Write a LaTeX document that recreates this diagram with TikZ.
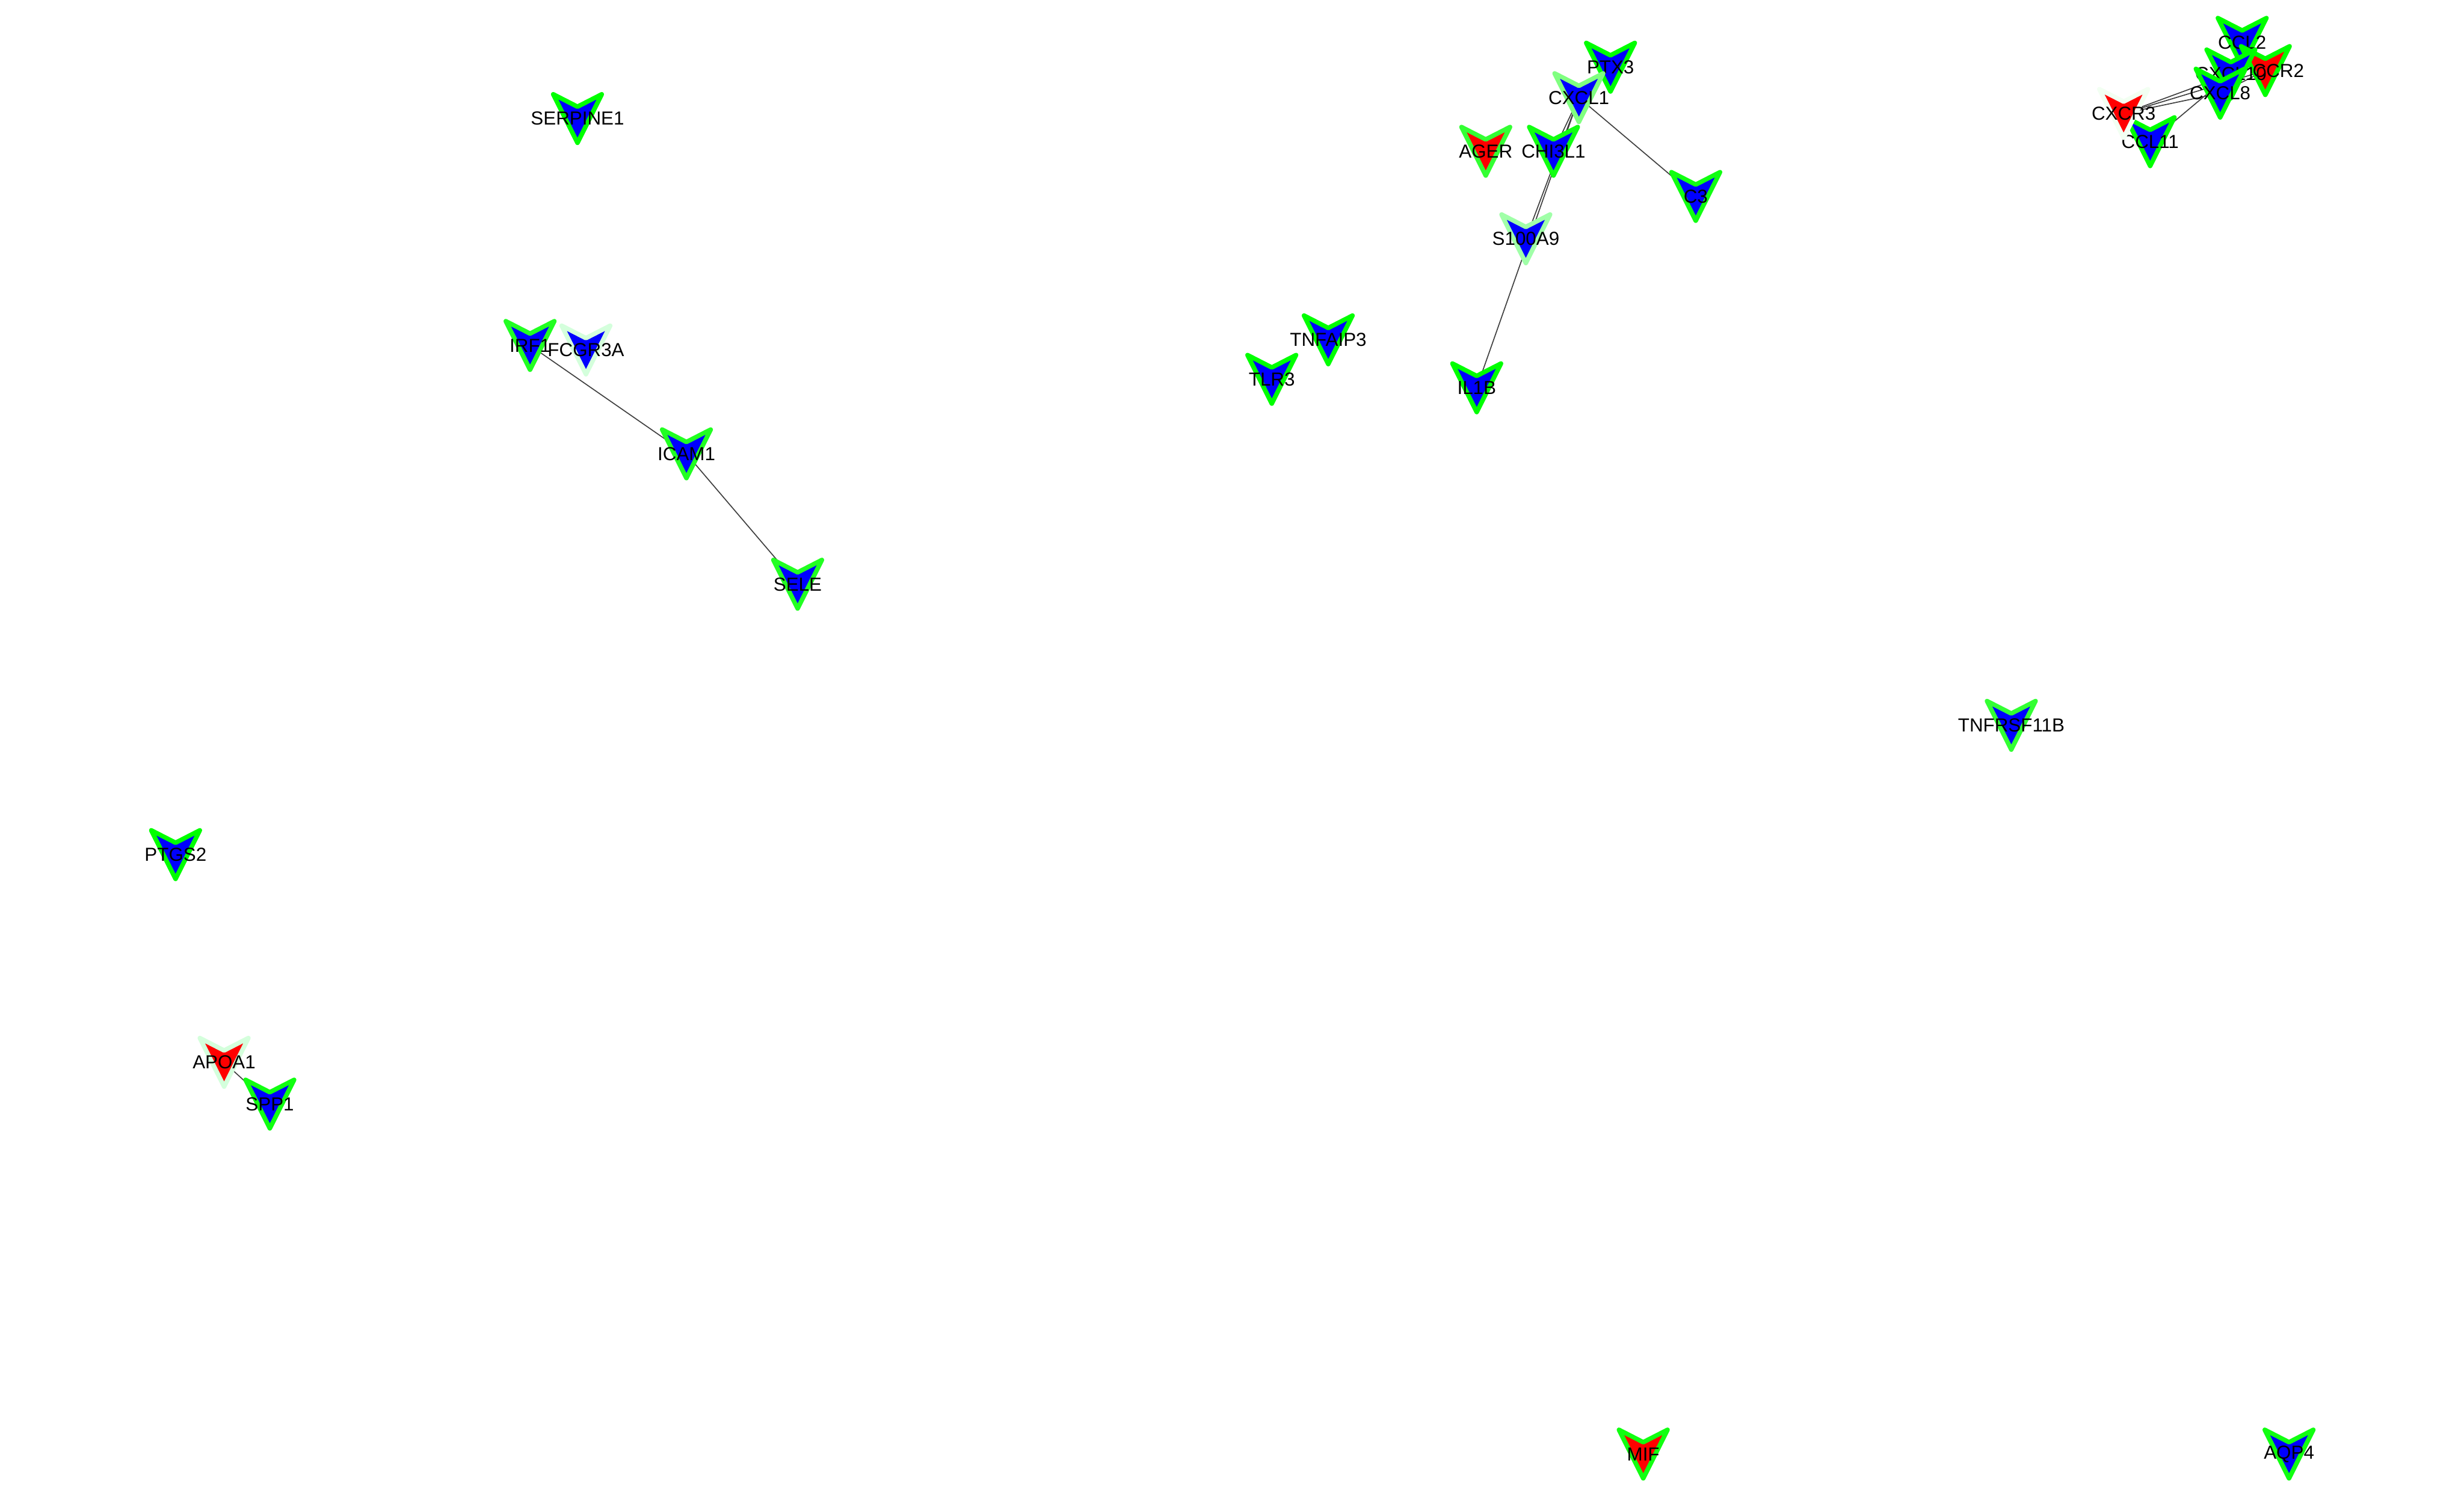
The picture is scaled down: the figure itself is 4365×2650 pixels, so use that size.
\documentclass[tikz,border=0pt]{standalone}
\usepackage{fontspec}
\setmainfont{Liberation Sans}
\pgfdeclarelayer{bglayer}
\pgfdeclarelayer{edgelayer}
\pgfsetlayers{bglayer,edgelayer,main}
\definecolor{vblue}{RGB}{0,0,255}
\definecolor{vred}{RGB}{255,0,0}
\definecolor{g0}{RGB}{0,255,0}
\definecolor{g1}{RGB}{17,255,17}
\definecolor{g2}{RGB}{34,255,34}
\definecolor{g3}{RGB}{51,255,51}
\definecolor{g4}{RGB}{128,255,128}
\definecolor{g5}{RGB}{160,255,168}
\definecolor{g6}{RGB}{212,255,220}
\definecolor{g7}{RGB}{242,255,242}
\definecolor{edgegray}{RGB}{64,64,64}
\tikzset{
  veeshape/.style={line width=0.08cm, line join=round},
  genelabel/.style={inner sep=0pt, font=\fontsize{9.5pt}{11pt}\selectfont, text=black},
  ppi/.style={draw=edgegray, line width=0.018cm},
}
\newcommand\genenode[6]{%
  \filldraw[veeshape, fill=#4, draw=#5] (#2,#3) ++(-43,-43) -- ++(43,22) -- ++(43,-22) -- ++(-43,86) -- cycle;
  \node[genelabel] (#1) at (#2,#3) {\makebox[0pt][c]{\hspace*{#6}#1}};
}
\begin{document}
\begin{tikzpicture}[x=0.01cm,y=-0.01cm]
\begin{pgfonlayer}{bglayer}
  \fill[white] (0,0) rectangle (4365,2650);
\end{pgfonlayer}
\useasboundingbox (0,0) rectangle (4365,2650);

\genenode{SERPINE1}{1023}{210}{vblue}{g0}{0pt}
\genenode{IRF1}{939}{612}{vblue}{g2}{0pt}
\genenode{FCGR3A}{1038}{620}{vblue}{g6}{0pt}
\genenode{ICAM1}{1216}{804}{vblue}{g2}{0pt}
\genenode{SELE}{1413}{1035}{vblue}{g2}{0pt}
\genenode{PTGS2}{311}{1514}{vblue}{g0}{0pt}
\genenode{APOA1}{397}{1882}{vred}{g6}{0pt}
\genenode{SPP1}{478}{1956}{vblue}{g1}{0pt}
\genenode{TLR3}{2253}{672}{vblue}{g0}{0pt}
\genenode{TNFAIP3}{2353}{602}{vblue}{g0}{0pt}
\genenode{IL1B}{2616}{687}{vblue}{g0}{0pt}
\genenode{S100A9}{2703}{423}{vblue}{g5}{0pt}
\genenode{AGER}{2632}{268}{vred}{g3}{0pt}
\genenode{PTX3}{2853}{119}{vblue}{g0}{0pt}
\genenode{CXCL1}{2797}{173}{vblue}{g4}{0pt}
\genenode{CHI3L1}{2752}{268}{vblue}{g1}{0pt}
\genenode{C3}{3004}{348}{vblue}{g1}{0pt}
\genenode{TNFRSF11B}{3563}{1285}{vblue}{g3}{0pt}
\genenode{MIF}{2911}{2576}{vred}{g1}{0pt}
\genenode{AQP4}{4055}{2576}{vblue}{g1}{0pt}
\genenode{CCL2}{3972}{75}{vblue}{g0}{0pt}
\genenode{CCR2}{4013}{125}{vred}{g0}{0.46cm}
\genenode{CXCL10}{3952}{131}{vblue}{g0}{0pt}
\genenode{CXCL8}{3933}{165}{vblue}{g0}{0pt}
\genenode{CCL11}{3809}{251}{vblue}{g0}{0pt}
\genenode{CXCR3}{3762}{201}{vred}{g7}{0pt}

\begin{pgfonlayer}{edgelayer}
  \draw[ppi] (IRF1.center) -- (ICAM1.center);
  \draw[ppi] (ICAM1.center) -- (SELE.center);
  \draw[ppi] (APOA1.center) -- (SPP1.center);
  \draw[ppi] (CXCL1.center) -- (C3.center);
  \draw[ppi] (CXCL1.center) -- (CHI3L1.center);
  \draw[ppi] (CXCL1.center) -- (S100A9.center);
  \draw[ppi] (CXCL1.center) -- (IL1B.center);
  \draw[ppi] (CXCR3.center) -- (CXCL10.center);
  \draw[ppi] (CXCR3.center) -- (CCR2.center);
  \draw[ppi] (CXCR3.center) -- (CXCL8.center);
  \draw[ppi] (CCL11.center) -- (CXCL10.center);
  \draw[ppi] (CXCL8.center) -- (CCR2.center);
  \draw[ppi] (CCL2.center) -- (CXCL8.center);
\end{pgfonlayer}
\end{tikzpicture}
\end{document}
